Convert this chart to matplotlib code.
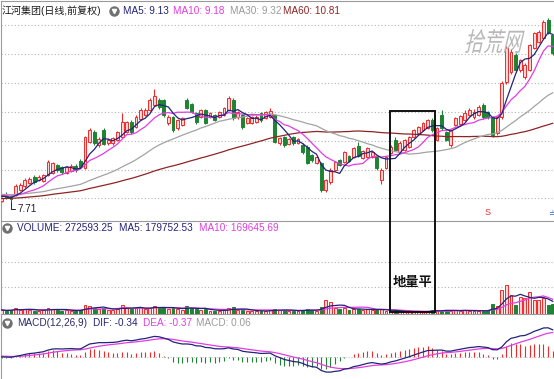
import matplotlib
matplotlib.use("Agg")
import matplotlib.pyplot as plt
import numpy as np
import pandas as pd
from matplotlib.patches import Rectangle, PathPatch
from matplotlib.textpath import TextPath
from matplotlib.font_manager import FontProperties
from matplotlib.transforms import Affine2D, IdentityTransform

plt.rcParams['font.family'] = ['Liberation Sans', 'Noto Sans CJK SC', 'DejaVu Sans']

# ---- data (daily bars) ----
# closes before the visible window, only used to seed the moving averages / MACD
prior_close = [7.62, 7.58, 7.66, 7.71, 7.64, 7.57, 7.60, 7.68, 7.73, 7.65,
               7.59, 7.55, 7.61, 7.67, 7.70, 7.63, 7.58, 7.62, 7.69, 7.74,
               7.66, 7.60, 7.64, 7.71, 7.77, 7.82, 7.85, 7.80, 7.88, 7.93,
               7.97, 8.02, 7.95, 8.06, 8.10, 8.03, 7.98, 8.05, 8.12, 8.08,
               8.01, 7.96, 8.04, 8.09, 8.02, 7.94, 7.99, 8.07, 8.11, 8.04,
               7.97, 8.03, 8.08, 8.00, 7.93, 7.98, 8.02, 7.95, 7.90]

opens = [7.76, 7.97, 7.95, 7.99, 8.19, 8.35, 8.47, 8.71, 8.59, 8.55,
         8.79, 8.87, 9.19, 9.11, 8.87, 8.95, 9.15, 9.35, 9.07, 10.11,
         10.51, 9.99, 10.59, 10.07, 10.07, 10.19, 10.31, 10.51, 10.91, 10.71,
         11.03, 11.19, 11.39, 11.59, 11.79, 11.79, 10.87, 11.11, 10.67, 10.79,
         11.79, 11.63, 11.27, 11.11, 11.39, 11.11, 11.19, 11.11, 11.19, 11.39,
         11.79, 11.11, 11.19, 10.87, 10.87, 10.91, 11.27, 11.07, 11.11, 11.19,
         10.07, 10.31, 10.03, 10.31, 10.07, 9.99, 9.91, 9.59, 9.27, 9.27,
         8.19, 8.51, 8.99, 9.39, 9.31, 9.55, 9.51, 9.95, 9.47, 9.51,
         9.51, 9.51, 8.59, 9.07, 9.67, 10.19, 9.71, 9.79, 9.91, 10.31,
         10.47, 10.59, 10.67, 10.99, 10.19, 11.19, 10.51, 9.99, 10.79, 10.83,
         10.99, 11.19, 11.11, 11.19, 11.59, 11.31, 11.11, 10.47, 11.11, 12.51,
         12.91, 13.59, 12.99, 12.71, 12.99, 13.87, 14.11, 14.27, 14.99, 14.39]
highs = [7.93, 8.11, 8.01, 8.43, 8.47, 8.67, 8.71, 8.79, 8.79, 8.85,
         9.39, 9.33, 9.25, 9.17, 9.17, 9.21, 9.21, 9.43, 10.37, 10.67,
         10.59, 10.31, 10.67, 10.27, 10.33, 10.57, 11.27, 10.97, 10.99, 11.19,
         11.47, 11.47, 11.87, 12.23, 11.87, 11.85, 11.19, 11.17, 11.05, 11.13,
         11.87, 11.69, 11.33, 11.45, 11.45, 11.33, 11.25, 11.37, 11.53, 11.95,
         11.87, 11.37, 11.25, 11.13, 11.17, 11.19, 11.33, 11.37, 11.47, 11.25,
         10.33, 10.37, 10.29, 10.37, 10.29, 10.05, 9.97, 9.65, 9.57, 9.33,
         8.65, 9.05, 9.37, 9.45, 9.77, 9.61, 9.93, 10.11, 9.81, 9.93,
         9.77, 9.57, 9.05, 9.57, 9.97, 10.31, 10.13, 10.25, 10.37, 10.65,
         10.77, 10.93, 11.05, 11.07, 10.73, 11.39, 10.57, 10.65, 11.13, 11.21,
         11.39, 11.47, 11.43, 11.59, 11.67, 11.37, 11.17, 11.17, 12.55, 13.95,
         13.85, 13.67, 13.45, 13.27, 14.05, 14.53, 14.61, 14.99, 15.07, 14.45]
lows = [7.73, 7.83, 7.71, 7.95, 8.13, 8.29, 8.43, 8.45, 8.55, 8.51,
        8.75, 8.83, 8.93, 8.85, 8.83, 8.91, 8.93, 9.05, 9.03, 10.05,
        10.01, 9.93, 9.97, 10.01, 10.01, 10.15, 10.27, 10.47, 10.45, 10.67,
        10.99, 11.15, 11.35, 11.55, 11.45, 11.13, 10.81, 10.53, 10.61, 10.75,
        11.43, 11.27, 10.85, 11.07, 10.83, 11.07, 10.95, 11.07, 11.15, 11.35,
        11.01, 11.05, 10.65, 10.83, 10.83, 10.87, 10.93, 11.03, 11.07, 10.05,
        10.01, 9.93, 9.97, 10.01, 10.03, 9.65, 9.21, 9.33, 9.23, 8.11,
        8.11, 8.45, 8.95, 9.15, 9.27, 9.31, 9.47, 9.51, 9.43, 9.47,
        9.47, 9.01, 8.43, 9.03, 9.63, 9.75, 9.67, 9.75, 9.87, 10.27,
        10.43, 10.55, 10.63, 10.53, 10.13, 10.61, 10.13, 9.91, 10.75, 10.79,
        10.95, 11.15, 11.05, 11.15, 11.05, 11.05, 10.33, 10.39, 11.05, 12.45,
        12.85, 12.93, 12.93, 12.65, 12.95, 13.83, 14.07, 14.23, 14.45, 13.61]
closes = [7.86, 7.89, 7.83, 8.35, 8.39, 8.59, 8.63, 8.51, 8.71, 8.79,
          9.31, 9.27, 8.99, 8.91, 9.11, 9.15, 8.99, 9.11, 10.31, 10.59,
          10.07, 10.23, 10.03, 10.19, 10.27, 10.51, 10.91, 10.91, 10.51, 11.11,
          11.39, 11.39, 11.79, 11.95, 11.51, 11.19, 11.11, 10.59, 10.99, 11.07,
          11.47, 11.31, 10.91, 11.39, 10.87, 11.27, 10.99, 11.31, 11.47, 11.87,
          11.07, 11.31, 10.71, 11.07, 11.11, 11.11, 10.99, 11.31, 11.35, 10.11,
          10.27, 9.99, 10.23, 10.07, 10.23, 9.71, 9.27, 9.39, 9.51, 8.19,
          8.59, 8.99, 9.31, 9.19, 9.71, 9.35, 9.87, 9.55, 9.75, 9.87,
          9.71, 9.07, 8.99, 9.51, 9.91, 9.79, 10.07, 10.19, 10.31, 10.59,
          10.71, 10.87, 10.99, 10.59, 10.67, 10.67, 10.19, 10.59, 11.07, 11.15,
          11.27, 11.39, 11.31, 11.51, 11.11, 11.11, 10.39, 11.11, 12.47, 13.87,
          13.71, 12.99, 13.39, 13.19, 13.99, 14.47, 14.51, 14.91, 14.51, 13.67]
volumes = [41200, 30500, 39800, 61300, 42700, 50900, 40600, 31800, 29700, 40400,
           62500, 51800, 40300, 31200, 39600, 30800, 29900, 41500, 92400, 81700,
           60800, 50200, 61900, 40700, 39400, 51300, 90600, 61200, 49800, 60400,
           70900, 50600, 61700, 80300, 59800, 71400, 50900, 60200, 49700, 40800,
           81900, 60300, 50800, 41300, 49600, 30700, 31500, 29800, 40200, 60900,
           71800, 40600, 39700, 30400, 29600, 31100, 30300, 29500, 40900, 51700,
           40500, 39300, 30600, 29800, 31200, 40300, 50800, 39600, 30700, 71300,
           140600, 121800, 60500, 50200, 61400, 40600, 50900, 49700, 40300, 51200,
           39800, 40700, 50300, 30900, 29700, 30600, 21400, 20800, 22100, 19800,
           30200, 21700, 30800, 40400, 39600, 30900, 40700, 31300, 40200, 29800,
           40900, 30400, 29700, 31600, 30800, 41300, 101200, 79800, 241600, 289700,
           190800, 91300, 170600, 159400, 221700, 140300, 139600, 160800, 90500, 101700]

# the low-volume stretch framed on the chart
box_first, box_last = 84, 93
box_label = "地量平"

RED = "#f02a2a"
RED_FACE = "#ffd4d4"
GREEN = "#1e8434"
NAVY = "#23237a"
MAGENTA = "#e23ce2"
GRAY = "#a3a3a3"
BROWN = "#8e2424"
GRID = "#b4b4b4"
FRAME = "#9a9a9a"

# ---- derived series ----
n_prior = len(prior_close)
allc = pd.Series(prior_close + closes)
ma = {w: allc.rolling(w, min_periods=1).mean().values[n_prior:] for w in (5, 10, 30, 60)}
dif_s = allc.ewm(span=12, adjust=False).mean() - allc.ewm(span=26, adjust=False).mean()
dea_s = dif_s.ewm(span=9, adjust=False).mean()
dif = dif_s.values[n_prior:]
dea = dea_s.values[n_prior:]
hist = 2 * (dif - dea)

vol = pd.Series(volumes)
vma5 = vol.rolling(5, min_periods=1).mean().values
vma10 = vol.rolling(10, min_periods=1).mean().values

o, h, l, c = (np.array(a) for a in (opens, highs, lows, closes))
v = np.array(volumes)
x = np.arange(len(closes))
up = c >= o

# ---- figure ----
W, H = 554, 379
fig = plt.figure(figsize=(W / 100, H / 100), dpi=100, facecolor="white")
left = 1 / W
ax_p = fig.add_axes([left, 1 - 221 / H, 1 - left, 220 / H])
ax_v = fig.add_axes([left, 1 - 314 / H, 1 - left, 93 / H])
ax_m = fig.add_axes([left, 0, 1 - left, 65 / H])

xlim = (-0.15, len(closes) - 1 + 0.28)
for ax in (ax_p, ax_v, ax_m):
    ax.set_xlim(*xlim)
    ax.tick_params(left=False, labelleft=False, bottom=False, labelbottom=False)
    ax.spines["right"].set_visible(False)
    for s in ("left", "top", "bottom"):
        ax.spines[s].set_color(FRAME)
        ax.spines[s].set_linewidth(0.8)
ax_v.spines["top"].set_visible(False)
ax_m.spines["top"].set_visible(False)
ax_m.spines["bottom"].set_visible(False)
ax_v.set_facecolor("none")
ax_m.set_facecolor("none")

# price panel
ax_p.set_ylim(6.95, 15.75)
ax_p.set_yticks([14.79, 13.63, 12.47, 11.31, 10.15, 8.99, 7.87])
ax_p.grid(axis="y", linestyle=(0, (1, 2)), color=GRID, linewidth=0.8)
ax_p.set_axisbelow(True)

bw = 0.62
for m, edge, face in ((up, RED, RED_FACE), (~up, GREEN, GREEN)):
    ax_p.vlines(x[m], l[m], h[m], color=edge, linewidth=0.8, zorder=2)
    ax_p.bar(x[m], np.maximum(np.abs(c - o)[m], 0.02), bottom=np.minimum(o, c)[m],
             width=bw, color=face, edgecolor=edge, linewidth=0.7, zorder=3)

for w, col in ((60, BROWN), (30, GRAY), (10, MAGENTA), (5, NAVY)):
    ax_p.plot(x, ma[w], color=col, linewidth=0.9, zorder=4)

imin = int(np.argmin(l))
ax_p.annotate(f"{l[imin]:.2f}", xy=(imin, l[imin]), xytext=(5, -5),
              textcoords="offset points", ha="left", va="center", fontsize=7.2,
              color="#222222",
              arrowprops=dict(arrowstyle="-", color="#222222", lw=0.7,
                              connectionstyle="angle,angleA=0,angleB=90,rad=0",
                              shrinkA=0, shrinkB=0))

ax_p.text(105, 0.04, "S", transform=ax_p.get_xaxis_transform(), color=RED,
          fontsize=6.5, ha="center", va="center")
ax_p.text(118.7, 0.035, "≐", transform=ax_p.get_xaxis_transform(), color="#3a6fd0",
          fontsize=6.5, ha="center", va="center", family=["DejaVu Sans"])


def icon(ax, xf, yf):
    ax.plot([xf], [yf], marker="o", ms=6.5, color="#707070", transform=ax.transAxes,
            clip_on=False, zorder=10)
    ax.plot([xf], [yf], marker="v", ms=3, color="white", transform=ax.transAxes,
            clip_on=False, zorder=11)


def header(ax, yf, items):
    for xp, txt, col in items:
        ax.text(xp / W, yf, txt, transform=ax.transAxes, color=col, fontsize=7.2,
                ha="left", va="center", zorder=12)


header(ax_p, 0.955, [(1, "江河集团(日线,前复权)", "#1a1a1a"),
                     (122, "MA5: 9.13", NAVY), (172, "MA10: 9.18", MAGENTA),
                     (229, "MA30: 9.32", "#9a9a9a"), (283, "MA60: 10.81", BROWN)])
icon(ax_p, 113 / W, 0.955)

# volume panel
ax_v.set_ylim(0, 930000)
ax_v.set_yticks([270000, 520000])
ax_v.grid(axis="y", linestyle=(0, (1, 2)), color=GRID, linewidth=0.8)
ax_v.set_axisbelow(True)
for m, edge, face in ((up, RED, RED_FACE), (~up, GREEN, GREEN)):
    ax_v.bar(x[m], v[m], width=bw, color=face, edgecolor=edge, linewidth=0.7, zorder=3)
ax_v.plot(x, vma10, color=MAGENTA, linewidth=0.9, zorder=4)
ax_v.plot(x, vma5, color=NAVY, linewidth=0.9, zorder=4)
header(ax_v, 0.925, [(16, "VOLUME: 272593.25", NAVY), (118, "MA5: 179752.53", NAVY),
                     (198, "MA10: 169645.69", MAGENTA)])
icon(ax_v, 6 / W, 0.925)

# MACD panel
ax_m.set_ylim(-0.8, 1.55)
ax_m.axhline(0, color=GRID, linestyle=(0, (1, 2)), linewidth=0.7, zorder=1)
ax_m.vlines(x[hist >= 0], 0, hist[hist >= 0], color=RED, linewidth=0.8, zorder=2)
ax_m.vlines(x[hist < 0], 0, hist[hist < 0], color=GREEN, linewidth=0.8, zorder=2)
ax_m.plot(x, dea, color=MAGENTA, linewidth=0.9, zorder=3)
ax_m.plot(x, dif, color=NAVY, linewidth=0.9, zorder=4)
header(ax_m, 0.862, [(16, "MACD(12,26,9)", "#2a2a66"), (92, "DIF: -0.34", NAVY),
                     (142, "DEA: -0.37", MAGENTA), (195, "MACD: 0.06", "#9a9a9a")])
icon(ax_m, 6 / W, 0.862)

# box around the flat-volume stretch, spanning price and volume panels
bx0 = box_first - 0.15
bx1 = box_last + 0.6
btop = h[box_first:box_last + 1].max() + 0.28
p0 = ax_v.transData.transform((bx0, 20000))
p1 = ax_p.transData.transform((bx1, btop))
fig.add_artist(Rectangle(p0, p1[0] - p0[0], p1[1] - p0[1], transform=IdentityTransform(),
                         fill=False, edgecolor="#111111", linewidth=1.4, zorder=20))
ax_v.text((bx0 + bx1) / 2, 320000, box_label, ha="center", va="center",
          fontsize=9.5, fontweight="bold", color="#111111", zorder=12,
          family=["Noto Sans CJK SC"])

# watermark (condensed, slanted)
wm = TextPath((0, 0), "拾荒网", size=26, prop=FontProperties(family="Noto Sans CJK SC"))
fig.add_artist(PathPatch(wm, transform=Affine2D().scale(0.74, 1.0).skew_deg(13, 0)
                         .translate(464, 328),
                         facecolor="#b8b8b8", edgecolor="none", zorder=15))

fig.savefig("out.png", dpi=100)
plt.close(fig)
